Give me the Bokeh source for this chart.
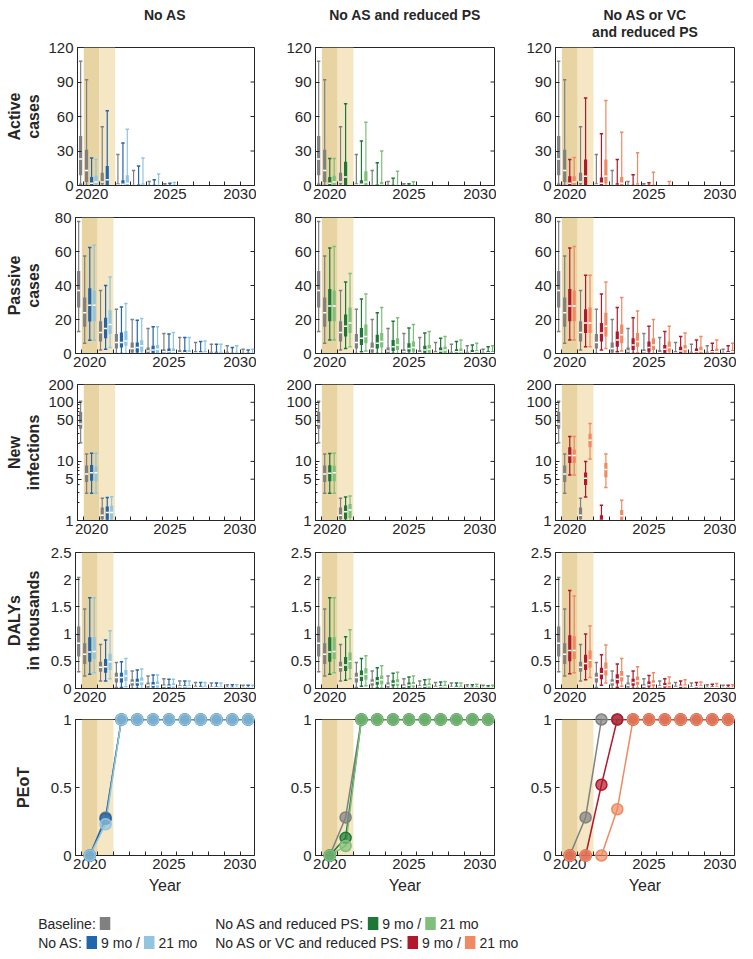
import math
from bokeh.plotting import figure
from bokeh.layouts import row, column
from bokeh.models import ColumnDataSource, Range1d, FixedTicker, CustomJSTickFormatter, BoxAnnotation
from bokeh.core.properties import value
from bokeh.embed import file_html
from bokeh.resources import INLINE

# ---------------- data ----------------
years_base = [2019, 2020, 2021, 2022, 2023, 2024, 2025, 2026, 2027, 2028, 2029, 2030]
years = [2020, 2021, 2022, 2023, 2024, 2025, 2026, 2027, 2028, 2029, 2030]

column_titles = [["No AS"], ["No AS and reduced PS"], ["No AS or VC", "and reduced PS"]]
row_labels = [["Active", "cases"], ["Passive", "cases"], ["New", "infections"], ["DALYs", "in thousands"], ["PEoT"]]
x_ticks = [2020, 2025, 2030]
interruption_9mo = [2019.5, 2020.5]
interruption_21mo = [2020.5, 2021.5]

# box statistics per year: [low whisker, q1, median, q3, high whisker]
active_base = [[1, 9, 23, 43, 108], [0, 3, 13, 31, 92], [0, 1, 3, 11, 51], [0, 0, 0.5, 2, 27],
               [0, 0, 0, 0.5, 13], [0, 0, 0, 0, 3.5], [0, 0, 0, 0, 1.5], [0, 0, 0, 0, 0],
               [0, 0, 0, 0, 0], [0, 0, 0, 0, 0], [0, 0, 0, 0, 0], [0, 0, 0, 0, 0]]
active_noas_9 = [[0, 0, 2, 7.5, 24], [0, 0, 5, 17, 65], [0, 0, 1, 4.6, 37], [0, 0, 0, 1, 17],
                 [0, 0, 0, 0, 5], [0, 0, 0, 0, 2], [0, 0, 0, 0, 0], [0, 0, 0, 0, 0],
                 [0, 0, 0, 0, 0], [0, 0, 0, 0, 0], [0, 0, 0, 0, 0]]
active_noas_21 = [[0, 0, 3, 8.4, 22.6], [0, 0, 0, 0, 0], [0, 0, 2, 9, 49], [0, 0, 0, 2, 24],
                  [0, 0, 0, 0.5, 10], [0, 0, 0, 0, 2.6], [0, 0, 0, 0, 0], [0, 0, 0, 0, 0],
                  [0, 0, 0, 0, 0], [0, 0, 0, 0, 0], [0, 0, 0, 0, 0]]
active_ps_9 = [[0, 0, 2, 7.5, 23.5], [0, 0, 7.5, 20.6, 71], [0, 0, 1, 4.6, 38.6], [0, 0, 0, 1, 19.7],
               [0, 0, 0, 0, 6.4], [0, 0, 0, 0, 1.5], [0, 0, 0, 0, 0], [0, 0, 0, 0, 0],
               [0, 0, 0, 0, 0], [0, 0, 0, 0, 0], [0, 0, 0, 0, 0]]
active_ps_21 = [[0, 0, 3, 8.4, 23.5], [0, 0, 0, 0, 0], [0, 0, 3, 12.5, 55], [0, 0, 0.5, 3, 30],
                [0, 0, 0, 0.5, 12.5], [0, 0, 0, 0, 3.2], [0, 0, 0, 0, 0], [0, 0, 0, 0, 0],
                [0, 0, 0, 0, 0], [0, 0, 0, 0, 0], [0, 0, 0, 0, 0]]
active_vc_9 = [[0, 0, 2, 8, 22.6], [0, 0, 8, 22.6, 76], [0, 0, 2, 7, 45], [0, 0, 0, 2, 22.6],
               [0, 0, 0, 0, 9.3], [0, 0, 0, 0, 2.3], [0, 0, 0, 0, 0], [0, 0, 0, 0, 0],
               [0, 0, 0, 0, 0], [0, 0, 0, 0, 0], [0, 0, 0, 0, 0]]
active_vc_21 = [[0, 0, 3, 8, 24.3], [0, 0, 0, 0, 0], [0, 1.7, 8, 22.6, 74], [0, 0, 2, 7.5, 46.4],
                [0, 0, 0, 2, 28.4], [0, 0, 0, 0, 11.6], [0, 0, 0, 0, 3.5], [0, 0, 0, 0, 0],
                [0, 0, 0, 0, 0], [0, 0, 0, 0, 0], [0, 0, 0, 0, 0]]

passive_base = [[13, 27, 37, 48.6, 77.6], [6, 15.7, 24, 33, 57.4], [2, 7, 12.3, 19, 37], [0, 3, 6.5, 11.4, 26],
                [0, 0.6, 3, 6.5, 20], [0, 0, 1.5, 3.5, 14.7], [0, 0, 1, 2.5, 11.8], [0, 0, 0.5, 2, 9.4],
                [0, 0, 0.3, 1.5, 6.5], [0, 0, 0, 1, 5.5], [0, 0, 0, 1, 4.5], [0, 0, 0, 0.5, 2.5]]
passive_noas_9 = [[7.8, 18.8, 28.4, 38.4, 62.3], [2.5, 9, 14.7, 21, 40], [0, 3.5, 6.5, 12.3, 27.4],
                  [0, 0.6, 3.5, 6.5, 19.6], [0, 0, 2, 4.5, 15.7], [0, 0, 1, 3, 11.4], [0, 0, 0.5, 2, 9.4],
                  [0, 0, 0.3, 1.5, 7], [0, 0, 0, 1, 5.5], [0, 0, 0, 0.5, 3.5], [0, 0, 0, 0.5, 2]]
passive_noas_21 = [[7.8, 19, 28.4, 37, 63.7], [3.5, 11.4, 17, 25.5, 45], [0, 4.5, 7.4, 13.3, 29.4],
                   [0, 1, 4.5, 7.8, 20.6], [0, 0, 2.5, 5, 15.7], [0, 0, 1, 3, 12.3], [0, 0, 0.5, 2, 9.4],
                   [0, 0, 0.3, 1.5, 7.4], [0, 0, 0, 1, 5.5], [0, 0, 0, 1, 4.5], [0, 0, 0, 0.5, 2.5]]
passive_ps_9 = [[8, 19, 28, 38, 62], [3, 10, 16, 23, 42], [1, 5, 9, 15, 32], [0, 3, 6, 11, 24],
                [0, 1.5, 4, 8, 19], [0, 1, 3, 6, 15], [0, 0.5, 2, 4.5, 12], [0, 0, 1.5, 3.5, 9],
                [0, 0, 1, 2.5, 7], [0, 0, 0.5, 2, 5], [0, 0, 0.5, 1.5, 4]]
passive_ps_21 = [[8, 19, 28, 37, 63], [4, 12, 18, 27, 47], [1.5, 6, 10, 17, 35], [0, 3.5, 7, 12, 27],
                 [0, 2, 5, 9, 21], [0, 1, 3.5, 7, 17], [0, 0.5, 2.5, 5, 13], [0, 0, 2, 4, 10],
                 [0, 0, 1, 3, 8], [0, 0, 1, 2, 6], [0, 0, 0.5, 1.5, 4.5]]
passive_vc_9 = [[8, 19, 28, 38, 62], [4, 12, 18, 26, 46], [2, 7, 12, 18, 35], [1, 4, 8, 13, 27],
                [0, 2, 5, 9, 21], [0, 1, 3.5, 7, 16], [0, 0.5, 2.5, 5, 13], [0, 0, 1.5, 4, 10],
                [0, 0, 1, 3, 8], [0, 0, 1, 2, 6], [0, 0, 0.5, 1.5, 4.5]]
passive_vc_21 = [[8, 19, 28, 37, 63], [4, 12, 18, 27, 46], [3, 10, 16, 24, 42], [1.5, 6, 11, 17, 33],
                 [0.5, 4, 7, 12, 25], [0, 2, 5, 9, 20], [0, 1, 3.5, 7, 16], [0, 0.5, 2.5, 5, 12],
                 [0, 0, 1.5, 4, 10], [0, 0, 1, 3, 8], [0, 0, 1, 2, 6]]

newinf_base = [[20.6, 35.7, 43, 68.6, 104], [2.9, 4.5, 6.1, 8.5, 13.4], [0.8, 1.05, 1.23, 1.66, 2.37],
               [0, 0, 0, 0, 0], [0, 0, 0, 0, 0], [0, 0, 0, 0, 0], [0, 0, 0, 0, 0], [0, 0, 0, 0, 0],
               [0, 0, 0, 0, 0], [0, 0, 0, 0, 0], [0, 0, 0, 0, 0], [0, 0, 0, 0, 0]]
newinf_noas_9 = [[2.9, 4.7, 6.4, 8.7, 13.8], [0.8, 1.03, 1.37, 1.73, 2.46], [0, 0, 0, 0, 0], [0, 0, 0, 0, 0],
                 [0, 0, 0, 0, 0], [0, 0, 0, 0, 0], [0, 0, 0, 0, 0], [0, 0, 0, 0, 0],
                 [0, 0, 0, 0, 0], [0, 0, 0, 0, 0], [0, 0, 0, 0, 0]]
newinf_noas_21 = [[2.9, 4.6, 6.4, 8.2, 13.8], [0.8, 1.03, 1.37, 1.78, 2.53], [0, 0, 0, 0, 0], [0, 0, 0, 0, 0],
                  [0, 0, 0, 0, 0], [0, 0, 0, 0, 0], [0, 0, 0, 0, 0], [0, 0, 0, 0, 0],
                  [0, 0, 0, 0, 0], [0, 0, 0, 0, 0], [0, 0, 0, 0, 0]]
newinf_ps_9 = [[2.9, 4.6, 6.3, 8.6, 13.6], [0.8, 1.05, 1.4, 1.8, 2.5], [0, 0, 0, 0, 0], [0, 0, 0, 0, 0],
               [0, 0, 0, 0, 0], [0, 0, 0, 0, 0], [0, 0, 0, 0, 0], [0, 0, 0, 0, 0],
               [0, 0, 0, 0, 0], [0, 0, 0, 0, 0], [0, 0, 0, 0, 0]]
newinf_ps_21 = [[2.9, 4.6, 6.4, 8.4, 13.8], [0.8, 1.1, 1.5, 1.9, 2.6], [0, 0, 0, 0, 0], [0, 0, 0, 0, 0],
                [0, 0, 0, 0, 0], [0, 0, 0, 0, 0], [0, 0, 0, 0, 0], [0, 0, 0, 0, 0],
                [0, 0, 0, 0, 0], [0, 0, 0, 0, 0], [0, 0, 0, 0, 0]]
newinf_vc_9 = [[5.9, 9.4, 12.6, 17.4, 26.5], [2.5, 4, 5.2, 6.5, 10], [0.6, 0.9, 1.0, 1.23, 1.82], [0, 0, 0, 0, 0],
               [0, 0, 0, 0, 0], [0, 0, 0, 0, 0], [0, 0, 0, 0, 0], [0, 0, 0, 0, 0],
               [0, 0, 0, 0, 0], [0, 0, 0, 0, 0], [0, 0, 0, 0, 0]]
newinf_vc_21 = [[5.9, 9.4, 12.6, 15.9, 26.5], [11, 17.4, 22.7, 29.4, 43.6], [3.6, 5.4, 7.3, 9.4, 13.4],
                [0.7, 1.0, 1.2, 1.5, 2.2], [0, 0, 0, 0, 0], [0, 0, 0, 0, 0], [0, 0, 0, 0, 0],
                [0, 0, 0, 0, 0], [0, 0, 0, 0, 0], [0, 0, 0, 0, 0], [0, 0, 0, 0, 0]]

dalys_base = [[0.31, 0.59, 0.83, 1.14, 2.04], [0.23, 0.45, 0.63, 0.83, 1.46], [0.14, 0.31, 0.39, 0.49, 0.81],
              [0.02, 0.11, 0.2, 0.29, 0.48], [0, 0.05, 0.11, 0.17, 0.32], [0, 0.02, 0.06, 0.11, 0.23],
              [0, 0.01, 0.04, 0.08, 0.18], [0, 0.01, 0.03, 0.06, 0.14], [0, 0, 0.02, 0.05, 0.11],
              [0, 0, 0.02, 0.04, 0.1], [0, 0, 0.01, 0.03, 0.07], [0, 0, 0.01, 0.02, 0.06]]
dalys_noas_9 = [[0.26, 0.49, 0.67, 0.94, 1.67], [0.14, 0.29, 0.4, 0.54, 0.89], [0.02, 0.11, 0.2, 0.29, 0.49],
                [0, 0.05, 0.11, 0.18, 0.34], [0, 0.02, 0.06, 0.12, 0.25], [0, 0.01, 0.04, 0.08, 0.17],
                [0, 0.01, 0.03, 0.06, 0.14], [0, 0, 0.02, 0.05, 0.11], [0, 0, 0.02, 0.04, 0.1],
                [0, 0, 0.01, 0.03, 0.07], [0, 0, 0.01, 0.02, 0.06]]
dalys_noas_21 = [[0.29, 0.54, 0.68, 0.94, 1.67], [0.18, 0.34, 0.49, 0.64, 1.06], [0.03, 0.14, 0.23, 0.34, 0.55],
                 [0, 0.06, 0.13, 0.2, 0.36], [0, 0.02, 0.07, 0.13, 0.25], [0, 0.01, 0.05, 0.09, 0.17],
                 [0, 0.01, 0.03, 0.06, 0.14], [0, 0, 0.02, 0.05, 0.11], [0, 0, 0.02, 0.04, 0.1],
                 [0, 0, 0.01, 0.03, 0.07], [0, 0, 0.01, 0.02, 0.06]]
dalys_ps_9 = [[0.26, 0.49, 0.67, 0.94, 1.67], [0.15, 0.32, 0.43, 0.58, 0.95], [0.04, 0.14, 0.23, 0.33, 0.55],
              [0.01, 0.07, 0.14, 0.21, 0.38], [0, 0.04, 0.09, 0.15, 0.28], [0, 0.02, 0.06, 0.11, 0.21],
              [0, 0.01, 0.04, 0.08, 0.16], [0, 0, 0.03, 0.06, 0.12], [0, 0, 0.02, 0.05, 0.1],
              [0, 0, 0.01, 0.03, 0.07], [0, 0, 0.01, 0.02, 0.05]]
dalys_ps_21 = [[0.29, 0.54, 0.68, 0.94, 1.67], [0.18, 0.36, 0.5, 0.66, 1.08], [0.05, 0.16, 0.26, 0.37, 0.6],
               [0.01, 0.08, 0.16, 0.24, 0.42], [0, 0.05, 0.1, 0.17, 0.3], [0, 0.03, 0.07, 0.12, 0.23],
               [0, 0.01, 0.05, 0.09, 0.17], [0, 0, 0.03, 0.07, 0.13], [0, 0, 0.02, 0.05, 0.1],
               [0, 0, 0.01, 0.04, 0.08], [0, 0, 0.01, 0.03, 0.06]]
dalys_vc_9 = [[0.27, 0.5, 0.7, 0.98, 1.8], [0.16, 0.34, 0.46, 0.62, 1.0], [0.06, 0.17, 0.27, 0.38, 0.62],
              [0.02, 0.09, 0.17, 0.26, 0.45], [0, 0.05, 0.11, 0.18, 0.32], [0, 0.03, 0.07, 0.13, 0.24],
              [0, 0.02, 0.05, 0.1, 0.18], [0, 0.01, 0.04, 0.07, 0.14], [0, 0, 0.03, 0.05, 0.11],
              [0, 0, 0.02, 0.04, 0.08], [0, 0, 0.01, 0.03, 0.06]]
dalys_vc_21 = [[0.29, 0.54, 0.7, 0.96, 1.7], [0.2, 0.38, 0.52, 0.7, 1.15], [0.1, 0.24, 0.35, 0.48, 0.8],
               [0.04, 0.13, 0.22, 0.32, 0.55], [0.01, 0.07, 0.14, 0.22, 0.4], [0, 0.04, 0.09, 0.15, 0.29],
               [0, 0.02, 0.06, 0.11, 0.21], [0, 0.01, 0.04, 0.08, 0.16], [0, 0, 0.03, 0.06, 0.12],
               [0, 0, 0.02, 0.04, 0.09], [0, 0, 0.01, 0.03, 0.07]]

peot_base = [0, 0.28, 1, 1, 1, 1, 1, 1, 1, 1, 1]
peot_noas_9 = [0, 0.27, 1, 1, 1, 1, 1, 1, 1, 1, 1]
peot_noas_21 = [0, 0.23, 1, 1, 1, 1, 1, 1, 1, 1, 1]
peot_ps_9 = [0, 0.13, 1, 1, 1, 1, 1, 1, 1, 1, 1]
peot_ps_21 = [0, 0.07, 1, 1, 1, 1, 1, 1, 1, 1, 1]
peot_vc_9 = [0, 0, 0.52, 1, 1, 1, 1, 1, 1, 1, 1]
peot_vc_21 = [0, 0, 0, 0.34, 1, 1, 1, 1, 1, 1, 1]

y_ranges = [(0, 120), (0, 80), (1, 200), (0, 2.5), (0, 1)]
y_ticks = [[0, 30, 60, 90, 120], [0, 20, 40, 60, 80], [1, 5, 10, 50, 100, 200],
           [0, 0.5, 1, 1.5, 2, 2.5], [0, 0.5, 1]]
log_minor = [2, 3, 4, 6, 7, 8, 9, 20, 30, 40, 60, 70, 80, 90]

legend_labels = ["Baseline:", "No AS:", "No AS and reduced PS:", "No AS or VC and reduced PS:"]
legend_parts = ["9 mo /", "21 mo"]

# ---------------- style ----------------
GRAY = "#808080"
COLORS = ["#2166ac", "#92c5de", "#1b7837", "#7fbf7b", "#b2182b", "#ef8a62"]
SHADE_DARK = "#e8d4a2"
SHADE_LIGHT = "#f5e7c4"
INK = "#262626"
FONT = "Liberation Sans"

X0, X1 = 2019.1, 2030.4
FRAME_W = 179
FRAME_H = [138, 136, 136, 136, 136]
TOPS = [8, 8, 8, 8, 8]
BOTS = [24, 23, 24, 23, 45]
LEFTS = [30, 59, 59]
RIGHT = 2
LABEL_W = 45
HEAD_H = 39
PXY = FRAME_W / (X1 - X0)
BW = 3.2 / PXY
CW = 3.4 / PXY

box_data = [
    [(active_base, active_noas_9, active_noas_21), (active_base, active_ps_9, active_ps_21), (active_base, active_vc_9, active_vc_21)],
    [(passive_base, passive_noas_9, passive_noas_21), (passive_base, passive_ps_9, passive_ps_21), (passive_base, passive_vc_9, passive_vc_21)],
    [(newinf_base, newinf_noas_9, newinf_noas_21), (newinf_base, newinf_ps_9, newinf_ps_21), (newinf_base, newinf_vc_9, newinf_vc_21)],
    [(dalys_base, dalys_noas_9, dalys_noas_21), (dalys_base, dalys_ps_9, dalys_ps_21), (dalys_base, dalys_vc_9, dalys_vc_21)],
]
peot_data = [(peot_base, peot_noas_9, peot_noas_21), (peot_base, peot_ps_9, peot_ps_21), (peot_base, peot_vc_9, peot_vc_21)]


def xpos(kind, yr):
    if kind == 0:
        return yr + 0.3 if yr == 2019 else yr - 0.32
    return yr + (0.0 if kind == 1 else 0.28)


def draw_boxes(p, yrs, stats, kind, color, log):
    d = dict(x=[], cx0=[], cx1=[], bx0=[], bx1=[], lo=[], q1=[], md=[], q3=[], hi=[])
    floor = 0.8 if log else 0.0
    for yr, s in zip(yrs, stats):
        if s[4] <= (1.0 if log else 0.0):
            continue
        x = xpos(kind, yr)
        lo, q1, md, q3, hi = [max(v, floor) for v in s]
        d["x"].append(x)
        d["cx0"].append(x - CW / 2)
        d["cx1"].append(x + CW / 2)
        d["bx0"].append(x - BW / 2)
        d["bx1"].append(x + BW / 2)
        d["lo"].append(lo)
        d["q1"].append(q1)
        d["q3"].append(q3)
        d["hi"].append(hi)
        d["md"].append(md if q3 > q1 else float("nan"))
    src = ColumnDataSource(d)
    p.segment(x0="x", y0="lo", x1="x", y1="hi", source=src, line_color=color, line_width=1.2)
    p.segment(x0="cx0", y0="hi", x1="cx1", y1="hi", source=src, line_color=color, line_width=1.5)
    p.segment(x0="cx0", y0="lo", x1="cx1", y1="lo", source=src, line_color=color, line_width=1.5)
    p.quad(left="bx0", right="bx1", bottom="q1", top="q3", source=src, fill_color=color, line_color=None)
    p.segment(x0="bx0", y0="md", x1="bx1", y1="md", source=src, line_color="white", line_width=1.5)


def draw_peot(p, vals, color):
    src = ColumnDataSource(dict(x=years, y=vals))
    p.line("x", "y", source=src, line_color=color, line_width=1.5)
    p.scatter("x", "y", source=src, size=11, fill_color=color, fill_alpha=0.7, line_color=color,
              line_width=1.5, level="overlay")


def make_panel(r, c):
    log = (r == 2)
    y0, y1 = y_ranges[r]
    w = LEFTS[c] + FRAME_W + RIGHT
    h = TOPS[r] + FRAME_H[r] + BOTS[r]
    p = figure(width=w, height=h, x_range=Range1d(X0, X1), y_range=Range1d(y0, y1),
               y_axis_type="log" if log else "linear", output_backend="svg", toolbar_location=None,
               min_border_left=LEFTS[c], min_border_right=RIGHT, min_border_top=TOPS[r],
               min_border_bottom=BOTS[r], background_fill_color="white", border_fill_color="white")
    p.xgrid.visible = False
    p.ygrid.visible = False
    p.outline_line_color = INK
    p.outline_line_width = 1
    for a, b, col in [(interruption_9mo[0], interruption_9mo[1], SHADE_DARK),
                      (interruption_21mo[0], interruption_21mo[1], SHADE_LIGHT)]:
        p.add_layout(BoxAnnotation(left=a, right=b, fill_color=col, fill_alpha=1.0,
                                   line_color=None, level="underlay"))
    xa = p.xaxis[0]
    xa.ticker = FixedTicker(ticks=x_ticks, minor_ticks=[2019.5 + i for i in range(11)])
    xa.major_tick_in = 0
    xa.major_tick_out = 0
    xa.minor_tick_in = 4
    xa.minor_tick_out = 0
    xa.major_label_standoff = 3
    xa.major_label_text_font = FONT
    xa.major_label_text_font_size = "15px"
    xa.major_label_text_color = INK
    xa.axis_line_color = INK
    xa.minor_tick_line_color = INK
    ya = p.yaxis[0]
    ya.ticker = FixedTicker(ticks=y_ticks[r], minor_ticks=log_minor if log else [])
    ya.formatter = CustomJSTickFormatter(code="return String(tick);")
    ya.major_tick_in = 4
    ya.major_tick_out = 0
    ya.minor_tick_in = 2
    ya.minor_tick_out = 0
    ya.major_label_standoff = 4
    ya.major_label_text_font = FONT
    ya.major_label_text_font_size = "15px"
    ya.major_label_text_color = INK
    ya.axis_line_color = INK
    ya.major_tick_line_color = INK
    ya.minor_tick_line_color = INK
    # mirrored ticks on the right edge
    tl = 4 / PXY
    p.segment(x0=[X1 - tl] * len(y_ticks[r]), y0=y_ticks[r], x1=[X1] * len(y_ticks[r]), y1=y_ticks[r],
              line_color=INK, line_width=1)
    if r == 4:
        xa.axis_label = "Year"
        xa.axis_label_text_font = FONT
        xa.axis_label_text_font_size = "16px"
        xa.axis_label_text_font_style = "normal"
        xa.axis_label_text_color = INK
        xa.axis_label_standoff = 5
        for kind, vals in enumerate(peot_data[c]):
            color = GRAY if kind == 0 else COLORS[2 * c + kind - 1]
            draw_peot(p, vals, color)
    else:
        base, s9, s21 = box_data[r][c]
        draw_boxes(p, years_base, base, 0, GRAY, log)
        draw_boxes(p, years, s9, 1, COLORS[2 * c], log)
        draw_boxes(p, years, s21, 2, COLORS[2 * c + 1], log)
    return p


panel_rows = []
for r in range(5):
    panel_rows.append(row(*[make_panel(r, c) for c in range(3)]))
grid = column(*panel_rows)

TOTAL_W = LABEL_W + sum(LEFTS) + 3 * (FRAME_W + RIGHT)
GRID_H = sum(TOPS) + sum(FRAME_H) + sum(BOTS)


def blank(w, h):
    f = figure(width=w, height=h, x_range=Range1d(0, w), y_range=Range1d(0, h), output_backend="svg",
               toolbar_location=None, min_border=0, x_axis_location=None, y_axis_location=None,
               background_fill_color="white", border_fill_color="white")
    f.xgrid.visible = False
    f.ygrid.visible = False
    f.outline_line_color = None
    return f


# header with column titles
header = blank(TOTAL_W, HEAD_H)
hx, hy, ht = [], [], []
x_left = LABEL_W
for c in range(3):
    cx = x_left + LEFTS[c] + FRAME_W / 2
    for i, line in enumerate(column_titles[c]):
        hx.append(cx)
        hy.append(HEAD_H - 14 - 17 * i)
        ht.append(line)
    x_left += LEFTS[c] + FRAME_W + RIGHT
header.text(x=hx, y=hy, text=ht, text_align="center", text_baseline="middle", text_font=value(FONT),
            text_font_style="bold", text_font_size="14px", text_color=INK)

# row labels
labels = blank(LABEL_W, GRID_H)
lx, ly, lt = [], [], []
y_top = GRID_H
for r in range(5):
    cy = y_top - TOPS[r] - FRAME_H[r] / 2
    lines = row_labels[r]
    if len(lines) == 1:
        lx.append(23); ly.append(cy); lt.append(lines[0])
    else:
        lx += [14, 33]; ly += [cy, cy]; lt += lines
    y_top -= TOPS[r] + FRAME_H[r] + BOTS[r]
labels.text(x=lx, y=ly, text=lt, angle=math.pi / 2, text_align="center", text_baseline="middle",
            text_font=value(FONT), text_font_style="bold", text_font_size="16px", text_color=INK)

# legend (positions laid out from approximate Arial glyph widths)
AW = {' ': 278, '/': 278, ':': 278, '1': 556, '2': 556, '9': 556, 'A': 667, 'B': 667, 'C': 722,
      'N': 722, 'P': 667, 'S': 667, 'V': 667, 'a': 556, 'c': 500, 'd': 556, 'e': 556, 'i': 222,
      'l': 222, 'm': 833, 'n': 556, 'o': 556, 'r': 333, 's': 500, 'u': 556}
LFS = 14


def tw(s):
    return sum(AW.get(ch, 556) for ch in s) * LFS / 1000.0


LEG_H = 51
legend = blank(TOTAL_W, LEG_H)
tx, ty, tt, sx, sy, sc = [], [], [], [], [], []
SQ = 10.5
GAP = 4
entries = [(legend_labels[0], 37.7, 28, [GRAY]),
           (legend_labels[1], 37.7, 9, COLORS[0:2]),
           (legend_labels[2], 214.7, 28, COLORS[2:4]),
           (legend_labels[3], 214.7, 9, COLORS[4:6])]
for lab, x, y, cols in entries:
    tx.append(x); ty.append(y); tt.append(lab)
    cur = x + tw(lab) + GAP
    for k, col in enumerate(cols):
        sx.append(cur + SQ / 2); sy.append(y); sc.append(col)
        cur += SQ + GAP
        if len(cols) > 1:
            part = legend_parts[k]
            tx.append(cur); ty.append(y); tt.append(part)
            cur += tw(part) + GAP
legend.text(x=tx, y=ty, text=tt, text_align="left", text_baseline="middle",
            text_font=value(FONT), text_font_size="%dpx" % LFS, text_color=INK)
legend.rect(x=sx, y=sy, width=SQ, height=13, fill_color=sc, line_color=None)

layout = column(header, row(labels, grid), legend)
open("out.html", "w").write(file_html(layout, INLINE))
